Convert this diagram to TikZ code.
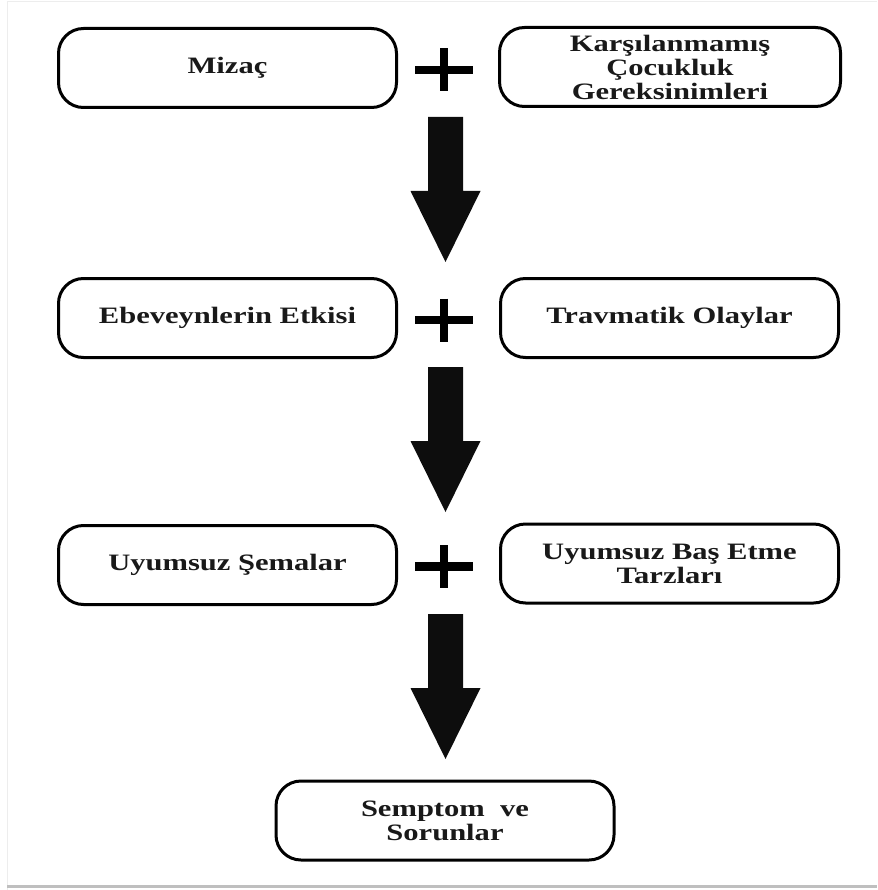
\documentclass[tikz,border=0pt]{standalone}
\usepackage{fontspec}
\setmainfont{Liberation Serif}[FakeStretch=1.3]
\usetikzlibrary{calc}
\begin{document}
\begin{tikzpicture}[x=1pt,y=-1pt,
  box/.style={draw=black,line width=3pt,rounded corners=25pt,fill=white,
    minimum width=338pt,minimum height=79pt,inner sep=0pt,align=center,
    font=\fontsize{23.5}{24}\selectfont\bfseries,text=black!90},
  plusbar/.style={line width=8.5pt,black},
  blockarrow/.style={fill=black!95}]
\useasboundingbox (0,0) rectangle (877,890);
% faint frame
\draw[black!7,line width=1pt] (7,890) -- (7,1.5) -- (877,1.5);
\draw[black!25,line width=3pt] (7,886) -- (877,886);
% boxes
\node[box] (mizac) at (227.5,68) {Mizaç};
\node[box,minimum width=341pt] (karsi) at (670,67) {Karşılanmamış\\Çocukluk\\Gereksinimleri};
\node[box] (ebev) at (227.5,318) {Ebeveynlerin Etkisi};
\node[box] (travma) at (669.5,318) {\raisebox{3pt}{Travmatik Olaylar}};
\node[box] (sema) at (227.5,565) {Uyumsuz Şemalar};
\node[box] (basetme) at (669.5,563.5) {Uyumsuz Baş Etme\\Tarzları};
\node[box] (semptom) at (445,820.5) {Semptom~~ve\\Sorunlar};
% plus signs
\coordinate (p1) at (444,70);
\coordinate (p2) at (444,320);
\coordinate (p3) at (444,566.5);
\foreach \p in {p1,p2,p3}{
  \draw[plusbar] ($(\p)+(-29,0)$) -- ($(\p)+(29,0)$);
  \draw[plusbar] ($(\p)+(0,-21.5)$) -- ($(\p)+(0,21.5)$);
}
% block arrows
\coordinate (a1s) at (445.5,117); \coordinate (a1e) at (445.5,262);
\coordinate (a2s) at (445.5,367); \coordinate (a2e) at (445.5,512);
\coordinate (a3s) at (445.5,614); \coordinate (a3e) at (445.5,759);
\foreach \s/\e in {a1s/a1e,a2s/a2e,a3s/a3e}{
  \fill[blockarrow] (\s) ++(-17.5,0) -- ++(0,74) -- ++(-17.5,0) -- (\e)
    -- ++(35,-71) -- ++(-17.5,0) -- ++(0,-74) -- cycle;
}
\end{tikzpicture}
\end{document}
